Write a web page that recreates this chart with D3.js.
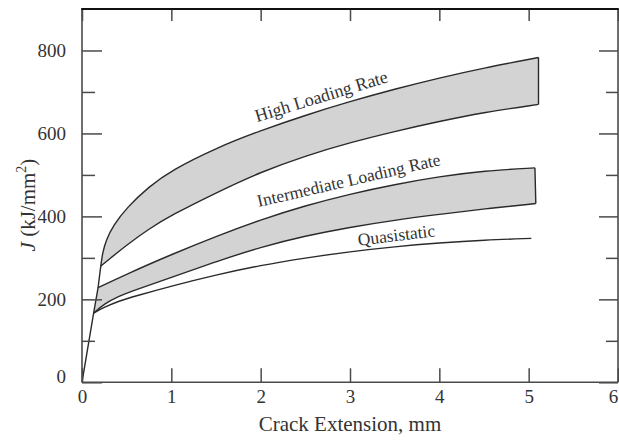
<!DOCTYPE html>
<html><head><meta charset="utf-8">
<script src="https://cdn.jsdelivr.net/npm/d3@7"></script>
<style>html,body{margin:0;padding:0;background:#fff;}svg{display:block;}</style>
</head><body>
<svg id="c" width="619" height="443"></svg>
<script>
// ---- data ----
const xTicks = [0, 1, 2, 3, 4, 5, 6];
const yTicks = [0, 200, 400, 600, 800];
const yMinorTicks = [100, 300, 500, 700];
const xLabel = "Crack Extension, mm";
const yLabelItalic = "J";
const yLabelRest = " (kJ/mm";
const yLabelSup = "2";

const elasticX = [0, 0.13, 0.18, 0.21];
const elasticY = [0, 167, 228, 280];

const highUpperX = [0.21, 0.23, 0.27, 0.35, 0.5, 0.75, 1.0, 1.5, 2.0, 2.5, 3.0, 3.5, 4.0, 4.5, 5.11];
const highUpperY = [280, 312, 343, 378, 421, 472, 511, 565, 607, 644, 677, 707, 734, 758, 783];
const highLowerX = [0.21, 0.3, 0.5, 0.75, 1.0, 1.5, 2.0, 2.5, 3.0, 3.5, 4.0, 4.5, 5.11];
const highLowerY = [280, 296, 331, 370, 403, 457, 507, 546, 578, 605, 629, 651, 670];

const interUpperX = [0.18, 0.5, 1.0, 1.5, 2.0, 2.5, 3.0, 3.5, 4.0, 4.5, 5.07];
const interUpperY = [228, 261, 308, 352, 392, 426, 454, 477, 496, 510, 517];
const interLowerX = [0.13, 0.25, 0.4, 0.6, 1.0, 1.5, 2.0, 2.5, 3.0, 3.5, 4.0, 4.5, 5.08];
const interLowerY = [167, 189, 207, 223, 253, 291, 326, 353, 374, 391, 405, 418, 431];

const quasiX = [0.13, 0.25, 0.4, 0.6, 1.0, 1.5, 2.0, 2.5, 3.0, 3.5, 4.0, 4.5, 5.03];
const quasiY = [167, 181, 195, 208, 232, 259, 282, 300, 315, 327, 336, 343, 347];

const curveLabels = ["High Loading Rate", "Intermediate Loading Rate", "Quasistatic"];

// ---- layout ----
const svg = d3.select("#c");
const L = 82, R = 618, T = 9, B = 382.3;
const x = d3.scaleLinear().domain([0, 6]).range([L, R]);
const y = d3.scaleLinear().domain([0, 900]).range([B, T]);
const font = "'Liberation Serif', 'Times New Roman', serif";
const axisColor = "#4a4a4a";
const lineColor = "#2a2a2a";
const fillColor = "#d3d3d3";

const zip = (xs, ys) => xs.map((v, i) => [v, ys[i]]);
const line = d3.line().x(d => x(d[0])).y(d => y(d[1])).curve(d3.curveBasis);

function sample(pts, n) {
  const p = svg.append("path").attr("d", line(pts)).attr("fill", "none");
  const len = p.node().getTotalLength();
  const out = [];
  for (let i = 0; i <= n; i++) {
    const q = p.node().getPointAtLength(len * i / n);
    out.push([q.x, q.y]);
  }
  p.remove();
  return out;
}
function drawBand(upper, lower, extra) {
  const u = sample(upper, 300);
  const l = sample(lower, 300).reverse();
  const ex = extra.map(d => [x(d[0]), y(d[1])]);
  const poly = u.concat(l).concat(ex);
  svg.append("path")
    .attr("d", "M" + poly.map(p => p.join(",")).join("L") + "Z")
    .attr("fill", fillColor).attr("stroke", "none");
}

const hu = zip(highUpperX, highUpperY), hl = zip(highLowerX, highLowerY);
const iu = zip(interUpperX, interUpperY), il = zip(interLowerX, interLowerY);
const qs = zip(quasiX, quasiY);
const el = zip(elasticX, elasticY);

drawBand(hu, hl, []);
drawBand(iu, il, [el[1], el[2]]);

// curves
const g = svg.append("g").attr("fill", "none").attr("stroke", lineColor).attr("stroke-width", 1.4);
[hu, hl, iu, il, qs].forEach(d => g.append("path").attr("d", line(d)));
g.append("path").attr("d", d3.line().x(d => x(d[0])).y(d => y(d[1]))(el));
g.append("line").attr("x1", x(hu[hu.length-1][0])).attr("y1", y(hu[hu.length-1][1]))
  .attr("x2", x(hl[hl.length-1][0])).attr("y2", y(hl[hl.length-1][1]));
g.append("line").attr("x1", x(iu[iu.length-1][0])).attr("y1", y(iu[iu.length-1][1]))
  .attr("x2", x(il[il.length-1][0])).attr("y2", y(il[il.length-1][1]));

// axes
function styleAxis(sel) {
  sel.selectAll(".domain").remove();
  sel.selectAll("line").attr("stroke", axisColor).attr("stroke-width", 1.5);
  sel.selectAll("text").attr("font-family", font).attr("font-size", 19).attr("fill", "#333");
}
const axLeft = svg.append("g").attr("transform", `translate(${L},0)`)
  .call(d3.axisLeft(y).tickValues(yTicks).tickSize(-20).tickPadding(16).tickFormat(d3.format("d")));
styleAxis(axLeft);
axLeft.selectAll(".tick").filter(d => d === 0).select("text").attr("y", -6);
const axLeftMinor = svg.append("g").attr("transform", `translate(${L},0)`)
  .call(d3.axisLeft(y).tickValues(yMinorTicks).tickSize(-13).tickFormat(""));
styleAxis(axLeftMinor);
const axRight = svg.append("g").attr("transform", `translate(${R},0)`)
  .call(d3.axisRight(y).tickValues(yTicks).tickSize(-19).tickFormat(""));
styleAxis(axRight);
const axRightMinor = svg.append("g").attr("transform", `translate(${R},0)`)
  .call(d3.axisRight(y).tickValues(yMinorTicks).tickSize(-12).tickFormat(""));
styleAxis(axRightMinor);
const axBottom = svg.append("g").attr("transform", `translate(0,${B})`)
  .call(d3.axisBottom(x).tickValues(xTicks).tickSize(-14).tickPadding(7).tickFormat(d3.format("d")));
styleAxis(axBottom);
axBottom.selectAll(".tick").filter(d => d === 6).select("text").attr("x", -5);
const axTop = svg.append("g").attr("transform", `translate(0,${T})`)
  .call(d3.axisTop(x).tickValues(xTicks).tickSize(-12).tickFormat(""));
styleAxis(axTop);

// frame
svg.append("line").attr("x1", L).attr("x2", L).attr("y1", T).attr("y2", B).attr("stroke", axisColor).attr("stroke-width", 1.6);
svg.append("line").attr("x1", R).attr("x2", R).attr("y1", T).attr("y2", B).attr("stroke", axisColor).attr("stroke-width", 1.6);
svg.append("line").attr("x1", L).attr("x2", R).attr("y1", B).attr("y2", B).attr("stroke", axisColor).attr("stroke-width", 1.6);
svg.append("line").attr("x1", L - 0.8).attr("x2", R + 0.8).attr("y1", T).attr("y2", T).attr("stroke", "#111").attr("stroke-width", 2);

// axis titles
svg.append("text").attr("x", (L + R) / 2).attr("y", 431).attr("text-anchor", "middle")
  .attr("font-family", font).attr("font-size", 21).attr("fill", "#333").text(xLabel);
const yt = svg.append("text").attr("transform", "translate(35,205) rotate(-90)").attr("text-anchor", "middle")
  .attr("font-family", font).attr("font-size", 21).attr("fill", "#333");
yt.append("tspan").attr("font-style", "italic").text(yLabelItalic);
yt.append("tspan").text(yLabelRest);
yt.append("tspan").attr("font-size", 14).attr("dy", -9).text(yLabelSup);
yt.append("tspan").attr("dy", 9).text(")");

// curve labels
const lab = [
  {t: curveLabels[0], cx: 323, cy: 102, a: -17, s: 18},
  {t: curveLabels[1], cx: 350, cy: 186, a: -13, s: 17.5},
  {t: curveLabels[2], cx: 397, cy: 241, a: -7, s: 17.5}
];
lab.forEach(d => svg.append("text").attr("transform", `translate(${d.cx},${d.cy}) rotate(${d.a})`)
  .attr("text-anchor", "middle").attr("font-family", font).attr("font-size", d.s).attr("fill", "#333").text(d.t));
</script>
</body></html>
